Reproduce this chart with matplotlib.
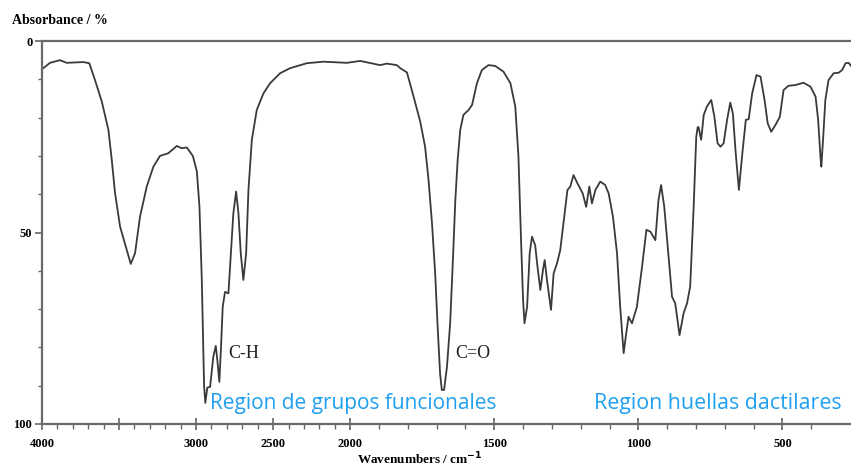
import numpy as np
import matplotlib
matplotlib.use("Agg")
import matplotlib.pyplot as plt
from matplotlib.ticker import FixedLocator, NullFormatter

# IR spectrum, read point by point (wavenumber in cm-1, absorbance in %)
wavenumber = [3995, 3948, 3883, 3840, 3732, 3693, 3656, 3612, 3569, 3547,
              3526, 3493, 3450, 3424, 3396, 3364, 3320, 3277, 3234, 3180,
              3125, 3093, 3060, 3021, 2995, 2978, 2963, 2953, 2948, 2940,
              2927, 2909, 2888, 2872, 2862, 2849, 2839, 2827, 2812, 2790,
              2775, 2758, 2740, 2725, 2710, 2693, 2675, 2660, 2638, 2606,
              2563, 2519, 2454, 2390, 2281, 2173, 2021, 1965, 1896, 1873,
              1838, 1826, 1803, 1780, 1757, 1740, 1728, 1716, 1705, 1697,
              1688, 1682, 1674, 1664, 1653, 1643, 1635, 1627, 1618, 1607,
              1589, 1577, 1560, 1543, 1520, 1497, 1468, 1444, 1427, 1416,
              1407, 1400, 1395, 1386, 1377, 1369, 1358, 1350, 1340, 1331,
              1325, 1317, 1303, 1294, 1282, 1271, 1260, 1246, 1236, 1225,
              1211, 1193, 1181, 1170, 1161, 1149, 1132, 1115, 1103, 1088,
              1074, 1063, 1051, 1042, 1034, 1022, 1005, 987, 972, 958,
              941, 930, 921, 910, 895, 883, 872, 857, 843, 831,
              820, 808, 799, 794, 791, 782, 773, 762, 747, 736,
              725, 715, 704, 692, 681, 672, 662, 651, 639, 627,
              617, 605, 590, 576, 562, 551, 539, 524, 509, 496,
              479, 455, 427, 403, 385, 376, 368, 365, 359, 351,
              340, 322, 305, 293, 281, 270, 262]
absorbance = [7.2, 5.7, 5.0, 5.7, 5.5, 5.8, 10.2, 15.8, 23.2, 31.1,
              39.7, 48.5, 54.6, 58.2, 55.4, 45.9, 38.0, 32.8, 30.0, 29.3,
              27.4, 28.0, 27.8, 30.0, 34.0, 43.3, 62.0, 80.0, 90.0, 94.5,
              90.5, 90.3, 82.4, 79.6, 83.3, 89.0, 80.7, 69.4, 65.5, 65.9,
              56.3, 45.0, 39.3, 45.0, 55.4, 62.4, 55.4, 38.9, 25.8, 18.0,
              13.7, 11.0, 8.4, 7.1, 5.8, 5.4, 5.7, 5.2, 6.3, 5.9,
              6.3, 7.1, 8.2, 14.5, 21.0, 27.6, 36.3, 47.6, 60.7, 73.7,
              86.8, 91.1, 91.1, 85.0, 73.7, 56.3, 41.5, 31.1, 23.2, 19.3,
              18.0, 16.7, 11.0, 7.6, 6.3, 6.5, 8.0, 11.0, 17.1, 30.2,
              52.0, 67.6, 73.7, 69.4, 55.4, 51.1, 53.3, 58.9, 65.0, 59.8,
              57.2, 62.4, 70.2, 60.7, 58.0, 54.6, 47.6, 38.9, 38.0, 35.0,
              37.2, 39.8, 43.3, 38.0, 42.4, 38.9, 36.7, 37.6, 39.8, 45.9,
              55.4, 69.4, 81.5, 76.3, 72.0, 73.7, 69.4, 58.9, 49.3, 49.8,
              52.0, 41.5, 37.6, 43.3, 56.3, 66.8, 68.5, 76.8, 71.1, 68.5,
              64.1, 43.3, 25.0, 22.5, 22.5, 25.8, 19.3, 17.1, 15.4, 19.8,
              26.7, 27.6, 26.7, 20.6, 16.1, 18.9, 29.3, 38.9, 29.3, 20.6,
              20.4, 13.7, 8.9, 9.3, 15.4, 21.5, 23.7, 21.9, 19.8, 12.8,
              11.7, 11.5, 10.9, 11.9, 14.5, 20.6, 30.2, 32.8, 25.8, 15.4,
              10.2, 8.4, 8.3, 7.6, 5.8, 5.7, 6.5]

x_ticks = [4000, 3500, 3000, 2500, 2000, 1500, 1000, 500]
x_labels = ["4000", "", "3000", "2500", "2000", "1500", "1000", "500"]
y_labels = [0, 50, 100]


# spectrometer style axis: the region below 2000 cm-1 is stretched
def fwd(w):
    w = np.asarray(w, dtype=float)
    return np.where(w >= 2000, (w - 4000) / 6.494, -308 - (2000 - w) / 3.472)


def inv(p):
    p = np.asarray(p, dtype=float)
    return np.where(p >= -308, 4000 + 6.494 * p, 2000 + 3.472 * (p + 308))


W, H = 851, 468
fig = plt.figure(figsize=(W / 100, H / 100), dpi=100)
ax = fig.add_axes([42 / W, 44 / H, 1 - 42 / W, 383 / H])

ax.plot(wavenumber, absorbance, color="#3a3a3a", lw=1.3)

ax.set_xscale("function", functions=(fwd, inv))
ax.set_xlim(4000, 262)
ax.set_ylim(100, 0)

serif = ["Liberation Serif", "DejaVu Serif"]
ax.xaxis.set_major_locator(FixedLocator(x_ticks))
ax.set_xticklabels(x_labels, family=serif, weight="bold", fontsize=9)
ax.xaxis.set_minor_locator(FixedLocator(list(range(3900, 300, -100))))
ax.xaxis.set_minor_formatter(NullFormatter())
ax.tick_params(axis="x", which="major", direction="inout", length=8, width=1.2,
               color="#666666", pad=6)
ax.tick_params(axis="x", which="minor", direction="out", length=3.5, width=1.0,
               color="#666666")

ax.set_yticks(y_labels)
ax.set_yticklabels([str(v) for v in y_labels], family=serif, weight="bold", fontsize=9)
ax.yaxis.set_minor_locator(FixedLocator(list(range(10, 100, 10))))
ax.tick_params(axis="y", which="major", direction="out", length=5, width=1.2,
               color="#666666", pad=2)
ax.tick_params(axis="y", which="minor", direction="out", length=3, width=1.0,
               color="#666666")

for side in ["left", "bottom", "top"]:
    ax.spines[side].set_color("#6a6a6a")
    ax.spines[side].set_linewidth(1.6)
ax.spines["right"].set_visible(False)

fig.text(12 / W, 1 - 20 / H, "Absorbance / %", family=serif, weight="bold",
         fontsize=10, ha="left", va="center")
fig.text(357 / W, 1 - 459 / H, "Wavenumbers / cm$^{\\mathbf{-1}}$", family=serif,
         weight="bold", fontsize=9.5, ha="left", va="center")

ax.text(2790, 81.5, "C-H", family=serif, fontsize=13, ha="left", va="center",
        color="#222222")
ax.text(1636, 81.5, "C=O", family=serif, fontsize=13, ha="left", va="center",
        color="#222222")

blue = "#1f9ff0"
fig.text(210 / W, 1 - 404 / H, "Region de grupos funcionales", family="Open Sans",
         fontsize=15, color=blue, ha="left", va="center")
fig.text(594 / W, 1 - 404 / H, "Region huellas dactilares", family="Open Sans",
         fontsize=15.4, color=blue, ha="left", va="center")

fig.savefig("out.png", dpi=100)
